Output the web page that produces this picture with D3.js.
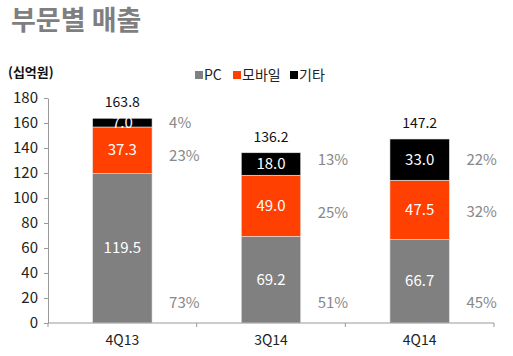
<!DOCTYPE html>
<html><head><meta charset="utf-8">
<script src="https://cdn.jsdelivr.net/npm/d3@7"></script>
<style>body{margin:0;background:#fff}svg{display:block}text{font-family:"Noto Sans CJK KR","Noto Sans",sans-serif}</style>
</head><body><svg id="c" width="513" height="356"></svg>
<script>
const categories = ["4Q13","3Q14","4Q14"];
const seriesNames = ["PC","모바일","기타"];
const pc = [119.5,69.2,66.7];
const mobile = [37.3,49.0,47.5];
const etc = [7.0,18.0,33.0];
const totals = [163.8,136.2,147.2];
const pctPC = ["73%","51%","45%"];
const pctMobile = ["23%","25%","32%"];
const pctEtc = ["4%","13%","22%"];
const yTicks = [0,20,40,60,80,100,120,140,160,180];
const colors = ["#808080","#ff4000","#000000"];

const svg = d3.select("#c");
const margin = {left:48, right:19, top:98, bottom:33};
const W = 513, H = 356;
const x = d3.scaleBand().domain(categories).range([margin.left, W-margin.right]).paddingInner(0.6).paddingOuter(0.3);
const y = d3.scaleLinear().domain([0,180]).range([H-margin.bottom, margin.top]);
const numFont = "'Noto Sans','Open Sans',sans-serif";

// title
svg.append("text").attr("x",11).attr("y",30).attr("font-size",27).attr("font-weight",700).attr("fill","#7f7f7f").text("부문별 매출");
svg.append("text").attr("x",8).attr("y",77).attr("font-size",13).attr("font-weight",700).attr("fill","#111").text("(십억원)");

// legend
const lg = svg.append("g");
const lx = [195,233,290];
seriesNames.forEach((n,i)=>{
  lg.append("rect").attr("x",lx[i]).attr("y",71).attr("width",8).attr("height",8).attr("fill",colors[i]);
  lg.append("text").attr("x",lx[i]+9).attr("y",80).attr("font-size",14).attr("fill","#222").text(n);
});

// axes
const ya = svg.append("g").attr("transform",`translate(${margin.left},0)`)
  .call(d3.axisLeft(y).tickValues(yTicks).tickSize(4).tickPadding(6).tickSizeOuter(0));
ya.select(".domain").attr("stroke","#999");
ya.selectAll(".tick line").attr("stroke","#999");
ya.selectAll(".tick text").attr("font-size",15).attr("fill","#222").attr("font-family",numFont);

const stack = d3.stack().keys([0,1,2])(categories.map((c,i)=>({0:pc[i],1:mobile[i],2:etc[i]})));
const bw = x.bandwidth();
stack.forEach((layer,k)=>{
  svg.append("g").selectAll("rect").data(layer).join("rect")
    .attr("x",(d,i)=>x(categories[i])).attr("width",bw)
    .attr("y",d=>y(d[1])).attr("height",d=>y(d[0])-y(d[1]))
    .attr("fill",colors[k]).attr("stroke","#e8e8e8").attr("stroke-width",0.6);
  svg.append("g").selectAll("text").data(layer).join("text")
    .attr("x",(d,i)=>x(categories[i])+bw/2).attr("y",d=>(y(d[0])+y(d[1]))/2+5)
    .attr("text-anchor","middle").attr("font-size",15).attr("fill","#fff")
    .attr("font-family",numFont)
    .text((d,i)=>[pc,mobile,etc][k][i].toFixed(1));
});

// x axis
const xa = svg.append("g").attr("transform",`translate(0,${y(0)})`);
xa.append("line").attr("x1",margin.left).attr("x2",W-margin.right).attr("stroke","#999");
d3.range(categories.length+1).forEach(i=>{
  const tx = margin.left + i*((W-margin.right-margin.left)/categories.length);
  xa.append("line").attr("x1",tx).attr("x2",tx).attr("y1",0).attr("y2",4).attr("stroke","#999");
});
categories.forEach(c=>{
  svg.append("text").attr("x",x(c)+bw/2).attr("y",y(0)+22).attr("text-anchor","middle").attr("font-size",14).attr("fill","#222")
    .attr("font-family",numFont).text(c);
});

// totals
categories.forEach((c,i)=>{
  svg.append("text").attr("x",x(c)+bw/2).attr("y",y(totals[i])-11).attr("text-anchor","middle").attr("font-size",14).attr("fill","#111")
    .attr("font-family",numFont).text(totals[i].toFixed(1));
});

// percentage labels (placed in value units)
const pctAtEtc = [160.4,130.7,130.7];
const pctAtMobile = [133.5,88,89];
const pctAtPC = [16,16,16];
categories.forEach((c,i)=>{
  const px = x(c)+bw+17;
  [[pctEtc,pctAtEtc],[pctMobile,pctAtMobile],[pctPC,pctAtPC]].forEach(([t,a])=>{
    svg.append("text").attr("x",px).attr("y",y(a[i])+5).attr("font-size",15).attr("fill","#888")
      .attr("font-family",numFont).text(t[i]);
  });
});
</script></body></html>
